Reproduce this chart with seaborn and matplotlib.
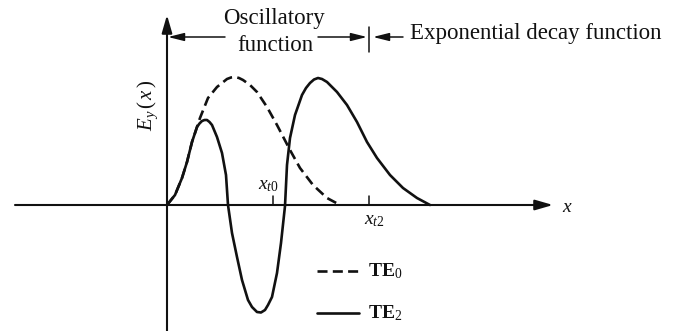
import matplotlib
matplotlib.use("Agg")
import matplotlib.pyplot as plt
import seaborn as sns
import pandas as pd

# Field profiles E_y(x) of the TE0 and TE2 modes (arbitrary units)
te0_x = [0.00, 0.08, 0.15, 0.20, 0.25, 0.30, 0.33, 0.41, 0.50, 0.60, 0.64,
         0.68, 0.72, 0.76, 0.83, 0.90, 1.00, 1.10, 1.23, 1.33, 1.46, 1.60,
         1.73]
te0_y = [0.00, 0.10, 0.27, 0.43, 0.63, 0.78, 0.87, 1.07, 1.18, 1.26, 1.275,
         1.28, 1.27, 1.25, 1.20, 1.13, 0.98, 0.80, 0.55, 0.37, 0.20, 0.07,
         0.00]

te2_x = [0.00, 0.08, 0.15, 0.20, 0.25, 0.30, 0.325, 0.35, 0.375, 0.40,
         0.425, 0.45, 0.50, 0.55, 0.59, 0.61, 0.65, 0.70, 0.75, 0.81, 0.85,
         0.90, 0.94, 0.98, 1.01, 1.05, 1.10, 1.14, 1.18, 1.20, 1.23, 1.28,
         1.35, 1.39, 1.43, 1.47, 1.51, 1.55, 1.60, 1.70, 1.80, 1.90, 2.00,
         2.10, 2.23, 2.36, 2.50, 2.63]
te2_y = [0.00, 0.10, 0.27, 0.43, 0.63, 0.78, 0.815, 0.84, 0.85, 0.85,
         0.83, 0.80, 0.68, 0.52, 0.30, 0.00, -0.28, -0.52, -0.75, -0.95, -1.02,
         -1.07, -1.075, -1.05, -1.00, -0.92, -0.68, -0.38, -0.01, 0.40, 0.67,
         0.90, 1.10, 1.17, 1.22, 1.255, 1.27, 1.26, 1.23, 1.13, 1.00, 0.83,
         0.63, 0.47, 0.30, 0.17, 0.07, 0.00]

# Turning points marked on the x axis
turning_points = [1.06, 2.02]
turning_labels = [r"$x_{t0}$", r"$x_{t2}$"]

mode_names = [r"$\mathbf{TE}_0$", r"$\mathbf{TE}_2$"]
region_labels = ["Oscillatory", "function", "Exponential decay function"]

sns.set_theme(style="white")
plt.rcParams["font.family"] = ["Liberation Serif", "DejaVu Serif"]
plt.rcParams["mathtext.fontset"] = "custom"
plt.rcParams["mathtext.rm"] = "Liberation Serif"
plt.rcParams["mathtext.it"] = "Liberation Serif:italic"
plt.rcParams["mathtext.bf"] = "Liberation Serif:bold"

fig = plt.figure(figsize=(6.75, 3.31), dpi=100)
ax = fig.add_axes([0, 0, 1, 1])
ax.set_xlim(-1.67, 5.08)
ax.set_ylim(-1.26, 2.05)
ax.axis("off")

ink = "#111111"
lw = 1.9

df0 = pd.DataFrame({"x": te0_x, "E": te0_y})
df2 = pd.DataFrame({"x": te2_x, "E": te2_y})
sns.lineplot(data=df0, x="x", y="E", sort=False, estimator=None, ax=ax,
             color=ink, lw=lw, linestyle=(0, (3.8, 2.0)))
sns.lineplot(data=df2, x="x", y="E", sort=False, estimator=None, ax=ax,
             color=ink, lw=lw, solid_joinstyle="round", solid_capstyle="round")

# Coordinate axes with arrowheads
arrow = dict(arrowstyle="-|>,head_length=0.9,head_width=0.26", color=ink,
             lw=1.5, shrinkA=0, shrinkB=0)
ax.annotate("", xy=(3.86, 0), xytext=(-1.52, 0), arrowprops=arrow)
ax.annotate("", xy=(0, 1.90), xytext=(0, -1.30), arrowprops=arrow)
ax.text(4.00, -0.02, r"$x$", fontsize=14, ha="center", va="center", color=ink)
ax.text(-0.19, 1.00, r"$E_y\,(\,x\,)$", fontsize=15, rotation=90,
        ha="center", va="center", color=ink)

# Turning-point ticks and labels
tick_len = 0.09
ax.plot([turning_points[0]] * 2, [0, tick_len], color=ink, lw=1.1)
ax.plot([turning_points[1]] * 2, [0, tick_len], color=ink, lw=1.1)
ax.text(turning_points[0] - 0.05, 0.19, turning_labels[0], fontsize=14,
        ha="center", va="center", color=ink)
ax.text(turning_points[1] + 0.05, -0.16, turning_labels[1], fontsize=14,
        ha="center", va="center", color=ink)

# Region dimension markers above the plot
dim_y = 1.68
small = dict(arrowstyle="-|>,head_length=0.8,head_width=0.2", color=ink,
             lw=1.1, shrinkA=0, shrinkB=0)
ax.annotate("", xy=(0.01, dim_y), xytext=(0.58, dim_y), arrowprops=small)
ax.annotate("", xy=(turning_points[1] - 0.02, dim_y), xytext=(1.51, dim_y),
            arrowprops=small)
ax.plot([turning_points[1]] * 2, [dim_y - 0.15, dim_y + 0.10], color=ink, lw=1.1)
ax.annotate("", xy=(turning_points[1] + 0.04, dim_y), xytext=(2.36, dim_y),
            arrowprops=small)
ax.text(1.07, 1.86, region_labels[0], fontsize=16.5, ha="center", va="center",
        color=ink)
ax.text(1.08, 1.59, region_labels[1], fontsize=16.5, ha="center", va="center",
        color=ink)
ax.text(2.43, 1.71, region_labels[2], fontsize=16.5, ha="left", va="center",
        color=ink)

# Legend drawn as line samples with labels
ax.plot([1.50, 1.92], [-0.66, -0.66], color=ink, lw=lw, linestyle=(0, (3.8, 2.0)))
ax.plot([1.50, 1.92], [-1.08, -1.08], color=ink, lw=lw)
ax.text(2.01, -0.66, mode_names[0], fontsize=14, ha="left", va="center", color=ink)
ax.text(2.01, -1.08, mode_names[1], fontsize=14, ha="left", va="center", color=ink)

fig.savefig("out.png", dpi=100)
